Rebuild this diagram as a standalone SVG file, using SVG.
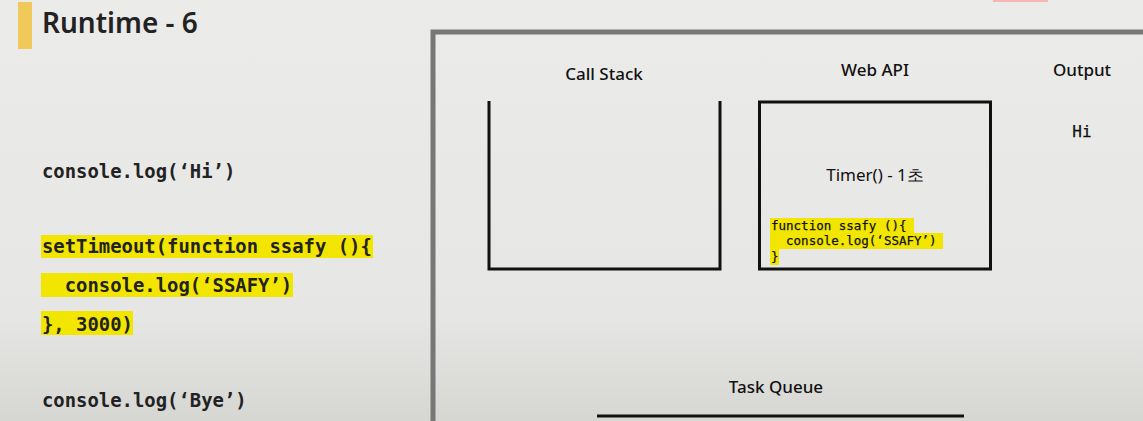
<svg xmlns="http://www.w3.org/2000/svg" width="1143" height="421" viewBox="0 0 1143 421">
<defs>
<linearGradient id="bg" x1="0" y1="0" x2="0" y2="1">
<stop offset="0" stop-color="#ebebe9"/>
<stop offset="0.75" stop-color="#e6e6e4"/>
<stop offset="1" stop-color="#d6d6d3"/>
</linearGradient>
</defs>
<style>
.ttl{font-family:"Noto Sans","Liberation Sans",sans-serif;font-weight:600;font-size:28px;fill:#222}
.lbl{font-family:"Noto Sans","Liberation Sans",sans-serif;font-weight:500;font-size:17px;fill:#111;text-anchor:middle}
.code{font-family:"DejaVu Sans Mono","Liberation Mono",monospace;font-weight:bold;font-size:18.9px;fill:#222}
.scode{font-family:"DejaVu Sans Mono","Liberation Mono",monospace;font-size:12.5px;fill:#111;stroke:#111;stroke-width:0.25}
.hl{fill:#f2e600}
.box{fill:none;stroke:#111;stroke-width:3}
</style>
<rect width="1143" height="421" fill="url(#bg)"/>
<rect x="993" y="0" width="55" height="2" fill="#f7b5b5"/>
<rect x="18" y="2" width="14" height="47" fill="#f0c95a"/>
<text class="ttl" x="42" y="33">Runtime - 6</text>

<g id="code">
<rect class="hl" x="41" y="235" width="332" height="23"/>
<rect class="hl" x="41" y="273" width="252" height="24"/>
<rect class="hl" x="41" y="311" width="92" height="24"/>
<text class="code" x="42" y="178">console.log(‘Hi’)</text>
<text class="code" x="42" y="253">setTimeout(function ssafy (){</text>
<text class="code" x="42" y="292" xml:space="preserve">  console.log(‘SSAFY’)</text>
<text class="code" x="42" y="331">}, 3000)</text>
<text class="code" x="42" y="407">console.log(‘Bye’)</text>
</g>

<g id="frame">
<path d="M433,421 V32 H1143" fill="none" stroke="#777" stroke-width="5"/>
</g>

<g id="callstack">
<text class="lbl" x="604" y="80">Call Stack</text>
<path class="box" d="M489,101 V269 H720 V101"/>
</g>

<g id="webapi">
<text class="lbl" x="875" y="76">Web API</text>
<rect class="box" x="759.5" y="102" width="231" height="167"/>
<text class="lbl" x="875" y="181" style="font-weight:normal">Timer() - 1초</text>
<rect class="hl" x="770" y="218" width="144" height="15"/>
<rect class="hl" x="770" y="233" width="173" height="16"/>
<rect class="hl" x="770" y="249" width="9" height="16"/>
<text class="scode" x="771" y="230">function ssafy (){</text>
<text class="scode" x="771" y="245" xml:space="preserve">  console.log(‘SSAFY’)</text>
<text class="scode" x="771" y="261">}</text>
</g>

<g id="output">
<text class="lbl" x="1082" y="76">Output</text>
<text class="scode" x="1082" y="137" text-anchor="middle" style="font-size:16px">Hi</text>
</g>

<g id="taskqueue">
<text class="lbl" x="776" y="393">Task Queue</text>
<line x1="597" y1="416" x2="964" y2="416" stroke="#111" stroke-width="3"/>
</g>
</svg>
